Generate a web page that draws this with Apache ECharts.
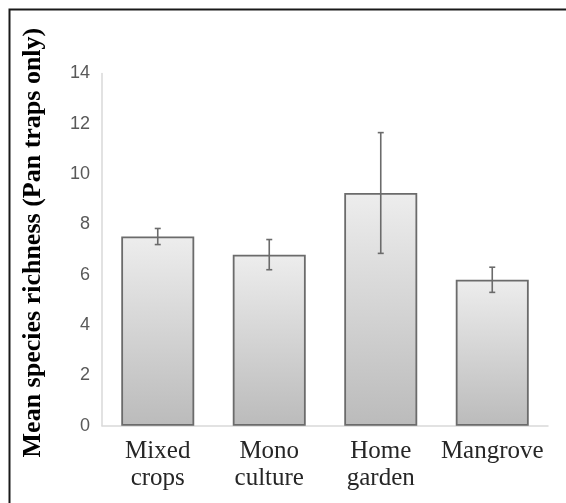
<!DOCTYPE html>
<html>
<head>
<meta charset="utf-8">
<script src="https://cdn.jsdelivr.net/npm/echarts@6/dist/echarts.min.js"></script>
<style>
html,body{margin:0;padding:0;background:#fff;}
#c{width:566px;height:503px;}
</style>
</head>
<body>
<div id="c"></div>
<script>
const categories = ['Mixed\ncrops', 'Mono\nculture', 'Home\ngarden', 'Mangrove'];
const meanRichness = [7.52, 6.8, 9.25, 5.8];
const errorValues = [0.32, 0.6, 2.4, 0.5];
const yTicks = {min: 0, max: 14, interval: 2};
const yTitle = 'Mean species richness (Pan traps only)';

const chart = echarts.init(document.getElementById('c'), null, {renderer: 'canvas'});
const errData = meanRichness.map((v, i) => [i, v - errorValues[i], v + errorValues[i]]);

chart.setOption({
  animation: false,
  backgroundColor: '#ffffff',
  grid: {left: 102, top: 73.5, width: 446, bottom: 77.3, containLabel: false},
  graphic: [{
    type: 'rect', z: 100,
    shape: {x: 9.5, y: 9.5, width: 640, height: 640},
    style: {fill: 'none', stroke: '#1a1a1a', lineWidth: 2}
  }],
  xAxis: {
    type: 'category',
    data: categories,
    axisLine: {show: true, lineStyle: {color: '#d9d9d9', width: 1.5}},
    axisTick: {show: false},
    axisLabel: {
      margin: 12, color: '#262626', fontFamily: 'Liberation Serif', fontSize: 25, lineHeight: 27, interval: 0
    }
  },
  yAxis: {
    type: 'value',
    min: yTicks.min, max: yTicks.max, interval: yTicks.interval,
    name: yTitle,
    nameLocation: 'middle',
    nameGap: 56,
    nameTextStyle: {
      fontFamily: 'Liberation Serif', fontWeight: 'bold', fontSize: 26, color: '#000',
      padding: [0, 0, 0, 14]
    },
    axisLine: {show: true, lineStyle: {color: '#d9d9d9', width: 1.5}},
    axisTick: {show: false},
    splitLine: {show: false},
    axisLabel: {margin: 12, color: '#595959', fontFamily: 'Liberation Sans', fontSize: 18}
  },
  series: [{
    type: 'bar',
    data: meanRichness,
    barWidth: 73,
    itemStyle: {
      color: new echarts.graphic.LinearGradient(0, 0, 0, 1, [
        {offset: 0, color: '#ededed'},
        {offset: 1, color: '#bbbbbb'}
      ]),
      borderColor: '#6b6b6b',
      borderWidth: 1.8
    }
  }, {
    type: 'custom',
    data: errData,
    z: 10,
    renderItem: function (params, api) {
      const x = api.value(0);
      const lo = api.coord([x, api.value(1)]);
      const hi = api.coord([x, api.value(2)]);
      const cw = 3;
      const st = {stroke: '#6b6b6b', lineWidth: 1.6};
      return {
        type: 'group',
        children: [
          {type: 'line', shape: {x1: hi[0], y1: hi[1], x2: lo[0], y2: lo[1]}, style: st},
          {type: 'line', shape: {x1: hi[0] - cw, y1: hi[1], x2: hi[0] + cw, y2: hi[1]}, style: st},
          {type: 'line', shape: {x1: lo[0] - cw, y1: lo[1], x2: lo[0] + cw, y2: lo[1]}, style: st}
        ]
      };
    }
  }]
});
</script>
</body>
</html>
